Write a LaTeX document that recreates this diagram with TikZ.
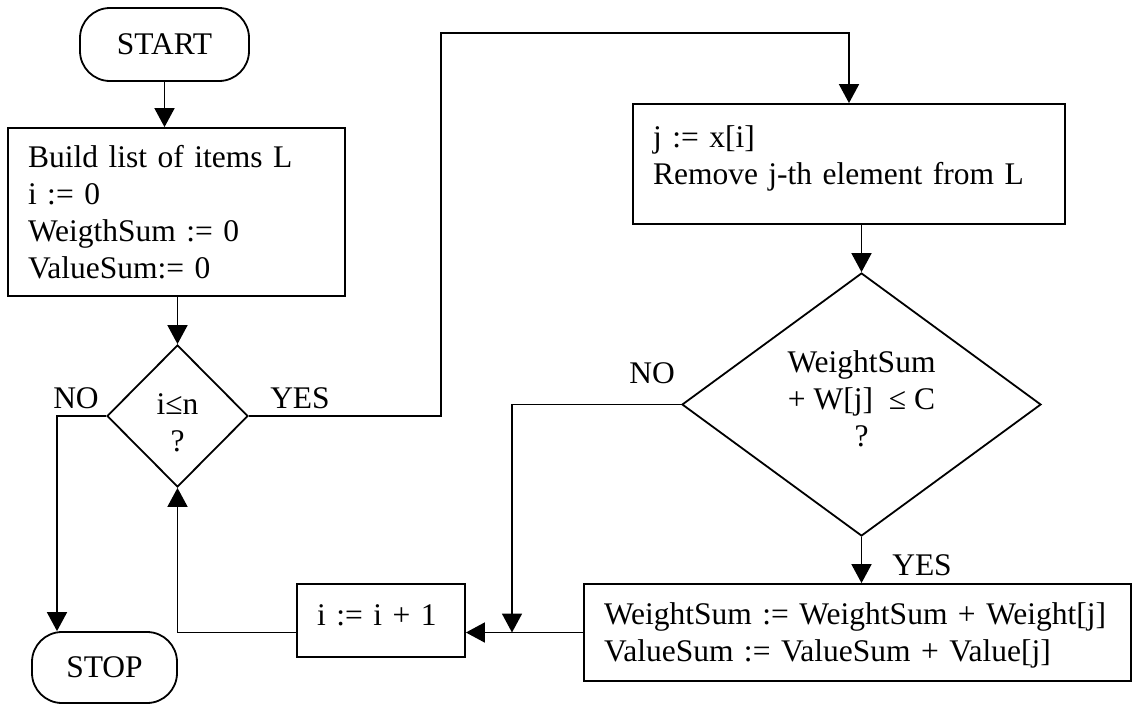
\documentclass[tikz,border=0pt]{standalone}
\usepackage{fontspec}
\setmainfont{Liberation Serif}
\usetikzlibrary{arrows.meta,shapes.geometric,calc}
\begin{document}
\begin{tikzpicture}[x=1pt,y=-1pt,
  line width=1.8pt,
  every node/.style={font=\fontsize{31.5}{37}\selectfont},
  terminal/.style={draw, rounded corners=30pt, inner sep=0pt},
  procbox/.style={draw, inner xsep=20pt, inner ysep=0pt, align=left},
  decision/.style={draw, diamond, inner sep=0pt, align=center},
  flow/.style={-{Triangle[length=19pt,width=20pt]}},
  tag/.style={inner sep=0pt}]

  \useasboundingbox (0,0) rectangle (1134,704);

  % terminals
  \node[terminal, minimum width=169pt, minimum height=73pt] (start) at (164.5,44.5) {START};
  \node[terminal, minimum width=145pt, minimum height=71pt] (stop) at (104.5,667.5) {STOP};

  % initialisation
  \node[procbox, text width=297pt, minimum height=168pt] (init) at (176.5,212)
    {Build list of items L\\ i := 0\\ WeigthSum := 0\\ ValueSum:= 0};

  % loop test
  \node[decision, minimum width=141pt, minimum height=142pt] (test) at (177.5,416)
    {\rule{0pt}{34pt}i≤n\\ ?};

  % pick the next item
  \node[procbox, text width=392pt, minimum height=120pt] (pick) at (849,164)
    {j := x[i]\\ Remove j-th element from L\rule[-17pt]{0pt}{17pt}};

  % capacity test
  \node[decision, minimum width=359pt, minimum height=263pt, shape aspect=1.36] (fits) at (861.5,404.5)
    {WeightSum\\ + W[j]\ \ ≤ C\\ ?\rule[-11pt]{0pt}{11pt}};

  % accumulate
  \node[procbox, text width=507pt, minimum height=97pt] (add) at (857.5,632.5)
    {\rule{0pt}{28pt}WeightSum := WeightSum + Weight[j]\\ ValueSum := ValueSum + Value[j]};

  % increment
  \node[procbox, text width=128pt, minimum height=73pt] (incr) at (381,620.5)
    {i := i + 1\rule[-11pt]{0pt}{11pt}};

  % branch labels
  \node[tag] (noA) at (76,398) {NO};
  \node[tag] (yesA) at (300,398) {YES};
  \node[tag] (noB) at (652,373) {NO};
  \node[tag] (yesB) at (922,565) {YES};

  % bends of the routed connectors
  \coordinate (noTurn) at (57,416);
  \coordinate (yesUp) at (441,416);
  \coordinate (yesTop) at (441,33);
  \coordinate (noDrop) at (512,404.5);

  % connectors
  \draw[flow] (start.south) -- (start.south |- init.north);
  \draw[flow] (init.south -| test.north) -- (test.north);
  \draw[flow] (test.west) -- (noTurn) -- (noTurn |- stop.north);
  \draw[flow] (test.east) -- (yesUp) -- (yesTop) -- (yesTop -| pick.north) -- (pick.north);
  \draw[flow] (pick.south -| fits.north) -- (fits.north);
  \draw[flow] (fits.south) -- (fits.south |- add.north);
  \draw[flow] (fits.west) -- (noDrop) -- (noDrop |- add.west);
  \draw[flow] (add.west) -- (add.west -| incr.east);
  \draw[flow] (incr.west |- add.west) -- (test.south |- add.west) -- (test.south);
\end{tikzpicture}
\end{document}
